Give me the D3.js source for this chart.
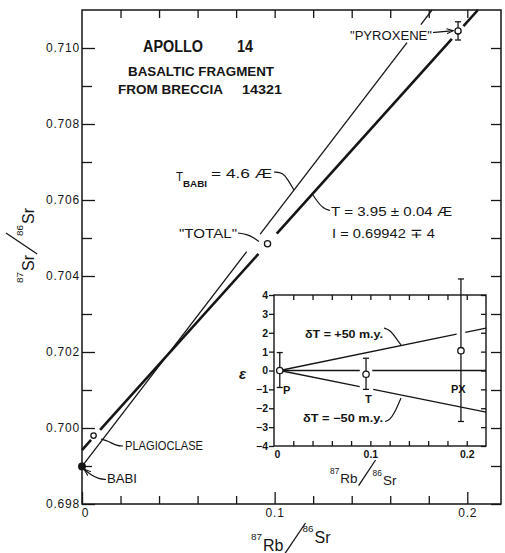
<!DOCTYPE html>
<html>
<head>
<meta charset="utf-8">
<script src="https://cdn.jsdelivr.net/npm/d3@7"></script>
<style>
  body { margin: 0; background: #fff; }
  svg text { font-family: "Liberation Sans", Arial, sans-serif; fill: #151515; }
</style>
</head>
<body>
<script>
// sample data
const sampleNames = ["BABI", "PLAGIOCLASE", "TOTAL", "PYROXENE"];
const rbSr = [0, 0.006, 0.0963, 0.1952];
const srSr = [0.69899, 0.6998, 0.70485, 0.71045];
const srErr = [0, 0, 0, 0.00024];
const filled = [true, false, false, false];

// isochron (T = 3.95 AE) and BABI reference line (4.6 AE), end points + gaps along x
const isoX = [0, 0.2055];
const isoY = [0.69942, 0.711];
const isoGaps = [[0.0047, 0.0094], [0.0916, 0.1011], [0.192, 0.198]];
const babiX = [0, 0.1817];
const babiY = [0.69899, 0.711];
const babiGaps = [[0.0855, 0.0925], [0.1687, 0.1759]];

// inset: epsilon deviations
const insetNames = ["P", "T", "PX"];
const insetRbSr = [0.006, 0.0955, 0.194];
const epsValues = [0, -0.2, 1.05];
const epsErrUp = [0.95, 0.85, 3.8];
const epsErrDown = [0.9, 0.8, 3.75];
const refNames = ["+50", "0", "-50"];
const refEndEps = [2.25, 0, -2.2];
const refGaps = [[[0.1895, 0.1985]], [[0.089, 0.102]], [[0.089, 0.103]]];

// ticks
const yMajorTicks = [0.698, 0.700, 0.702, 0.704, 0.706, 0.708, 0.710];
const yMinorTicks = [0.699, 0.701, 0.703, 0.705, 0.707, 0.709];
const xMajorTicks = [0, 0.1, 0.2];
const xMinorTicks = [0.02, 0.04, 0.06, 0.08, 0.12, 0.14, 0.16, 0.18];
const epsTicks = [-4, -3, -2, -1, 0, 1, 2, 3, 4];
const insetXTicks = [0.02, 0.04, 0.06, 0.08, 0.1, 0.12, 0.14, 0.16, 0.18, 0.2];

const ink = "#151515";
const svg = d3.select("body").append("svg").attr("width", 505).attr("height", 553);

const defs = svg.append("defs");
defs.append("marker").attr("id", "arr").attr("viewBox", "0 0 10 10")
    .attr("refX", 9).attr("refY", 5).attr("markerWidth", 6).attr("markerHeight", 6)
    .attr("orient", "auto")
    .append("path").attr("d", "M0,1.5 L10,5 L0,8.5").attr("fill", "none")
    .attr("stroke", ink).attr("stroke-width", 1.5);

const x = d3.scaleLinear().domain([0, 0.2175]).range([82, 501]);
const y = d3.scaleLinear().domain([0.698, 0.711]).range([504, 10]);

function pieces(x0, y0, x1, y1, gaps) {
    const at = v => y0 + (y1 - y0) * (v - x0) / (x1 - x0);
    const out = [];
    let s = x0;
    gaps.forEach(([a, b]) => { out.push([[s, at(s)], [a, at(a)]]); s = b; });
    out.push([[s, at(s)], [x1, at(x1)]]);
    return out;
}

function clean(g) {
    g.select(".domain").remove();
    g.selectAll("line").attr("stroke", ink).attr("stroke-width", 1.3);
    return g;
}

// main axes
clean(svg.append("g").attr("transform", "translate(82,0)")
    .call(d3.axisLeft(y).tickValues(yMajorTicks).tickSizeInner(-13).tickSizeOuter(0)
        .tickPadding(2).tickFormat(d3.format(".3f"))))
    .selectAll("text").style("font-size", "12px").attr("letter-spacing", 0.8);
clean(svg.append("g").attr("transform", "translate(82,0)")
    .call(d3.axisLeft(y).tickValues(yMinorTicks).tickSizeInner(-10).tickSizeOuter(0).tickFormat("")));
clean(svg.append("g").attr("transform", "translate(501,0)")
    .call(d3.axisRight(y).tickValues(yMajorTicks.concat(yMinorTicks)).tickSizeInner(-10)
        .tickSizeOuter(0).tickFormat("")));
clean(svg.append("g").attr("transform", "translate(0,504)")
    .call(d3.axisBottom(x).tickValues(xMajorTicks).tickSizeInner(-12).tickSizeOuter(0)
        .tickPadding(4).tickFormat(d => d === 0 ? "0" : d3.format(".1f")(d))))
    .selectAll("text").style("font-size", "12px").attr("letter-spacing", 0.8)
    .attr("dx", d => d === 0 ? 3 : 0);
clean(svg.append("g").attr("transform", "translate(0,504)")
    .call(d3.axisBottom(x).tickValues(xMinorTicks).tickSizeInner(-8).tickSizeOuter(0).tickFormat("")));
clean(svg.append("g").attr("transform", "translate(0,10)")
    .call(d3.axisTop(x).tickValues(xMinorTicks.concat([0.1, 0.2])).tickSizeInner(-8)
        .tickSizeOuter(0).tickFormat("")));

svg.append("rect").attr("x", x(0)).attr("y", y(0.711))
    .attr("width", x(0.2175) - x(0)).attr("height", y(0.698) - y(0.711))
    .attr("fill", "none").attr("stroke", ink).attr("stroke-width", 1.5);

// lines
const line = d3.line().x(d => x(d[0])).y(d => y(d[1]));
svg.append("g").selectAll("path")
    .data(pieces(isoX[0], isoY[0], isoX[1], isoY[1], isoGaps))
    .join("path").attr("d", line).attr("stroke", ink).attr("stroke-width", 2.6).attr("fill", "none");
svg.append("g").selectAll("path")
    .data(pieces(babiX[0], babiY[0], babiX[1], babiY[1], babiGaps))
    .join("path").attr("d", line).attr("stroke", ink).attr("stroke-width", 1.3).attr("fill", "none");

// points
const pts = sampleNames.map((n, i) => ({ n, rb: rbSr[i], sr: srSr[i], e: srErr[i], f: filled[i] }));
const pg = svg.append("g");
pts.filter(d => d.e > 0).forEach(d => {
    pg.append("line").attr("x1", x(d.rb)).attr("x2", x(d.rb))
        .attr("y1", y(d.sr + d.e)).attr("y2", y(d.sr - d.e)).attr("stroke", ink).attr("stroke-width", 1.3);
    [d.sr + d.e, d.sr - d.e].forEach(v => pg.append("line")
        .attr("x1", x(d.rb) - 3).attr("x2", x(d.rb) + 3).attr("y1", y(v)).attr("y2", y(v))
        .attr("stroke", ink).attr("stroke-width", 1.3));
});
pg.selectAll("circle").data(pts).join("circle")
    .attr("cx", d => x(d.rb)).attr("cy", d => y(d.sr))
    .attr("r", d => d.f ? 3.3 : (d.n === "PLAGIOCLASE" ? 2.7 : 3.1))
    .attr("fill", d => d.f ? ink : "#fff").attr("stroke", ink).attr("stroke-width", 1.3);

// text labels
function label(t, px, py, size, opts = {}) {
    const el = svg.append("text").attr("x", px).attr("y", py).style("font-size", size + "px").text(t);
    if (opts.bold) el.style("font-weight", "bold");
    if (opts.italic) el.style("font-style", "italic");
    if (opts.len) el.attr("textLength", opts.len).attr("lengthAdjust", "spacingAndGlyphs");
    return el;
}
label("APOLLO", 143, 51.5, 16, { bold: true, len: 60 });
label("14", 237, 51.5, 16, { bold: true, len: 16 });
label("BASALTIC FRAGMENT", 128, 75.5, 13, { bold: true, len: 146 });
label("FROM BRECCIA", 118, 93.5, 13, { bold: true, len: 105 });
label("14321", 242, 93.5, 13, { bold: true, len: 40 });

label("T", 176, 181, 13, { len: 7 });
label("BABI", 183, 187, 8.5, { bold: true, len: 24 });
label("= 4.6 Æ", 211, 178, 12.5, { len: 61 });
label("T = 3.95 ± 0.04  Æ", 331, 216, 12.5, { len: 121 });
label("I = 0.69942 ∓ 4", 332, 238, 12.5, { len: 103 });
label("\"TOTAL\"", 179, 238, 12.5, { len: 58 });
label("\"PYROXENE\"", 350, 40, 12.5, { len: 82 });
label("PLAGIOCLASE", 125, 449.5, 12, { len: 78 });
label("BABI", 107, 482.5, 12, { len: 30 });

// leader lines
const curve = d3.line().curve(d3.curveBasis);
function leader(p, arrow) {
    const el = svg.append("path").attr("d", curve(p)).attr("fill", "none")
        .attr("stroke", ink).attr("stroke-width", 1.2);
    if (arrow) el.attr("marker-end", "url(#arr)");
}
leader([[274, 172], [283, 172.5], [288, 180], [294, 190]]);
leader([[330, 210.5], [323, 208.5], [317, 201], [313, 195]]);
leader([[238, 233], [248, 234.5], [254, 238], [259, 241.5]]);
leader([[433, 32.5], [443, 31.5], [453, 30.7]], true);
leader([[123, 446], [117, 446], [108, 441], [101, 439]]);
leader([[106, 479.5], [99, 479], [91, 475], [84.5, 469.5]], true);

// ratio labels: 87X / 86Sr
function ratio(px, py, rot, el1, size, raise, slash) {
    const g = svg.append("g").attr("transform", `translate(${px},${py}) rotate(${rot})`);
    const sup = size * 0.62;
    let cx = 0;
    const put = (t, fs, ty) => {
        const e = g.append("text").attr("x", cx).attr("y", ty).style("font-size", fs + "px").text(t);
        cx += e.node().getComputedTextLength() + 1;
    };
    put("87", sup, -size * 0.66);
    put(el1, size, 0);
    g.append("line").attr("x1", cx).attr("y1", size * 0.2).attr("x2", cx + slash[0]).attr("y2", -slash[1])
        .attr("stroke", ink).attr("stroke-width", 1.3);
    cx += slash[0] - 3;
    put("86", sup, -size * 0.66 - raise);
    put("Sr", size, -raise);
}
ratio(251, 551, 0, "Rb", 16, 8, [21, 28]);
ratio(34, 283, -90, "Sr", 16, 0, [21, 28]);

// inset
const xi = d3.scaleLinear().domain([0, 0.22]).range([274, 486]);
const yi = d3.scaleLinear().domain([-4, 4]).range([446, 295]);
const inset = svg.append("g");
inset.append("rect").attr("x", xi(0)).attr("y", yi(4)).attr("width", xi(0.22) - xi(0))
    .attr("height", yi(-4) - yi(4)).attr("fill", "#fff");

clean(inset.append("g").attr("transform", `translate(${xi(0)},0)`)
    .call(d3.axisLeft(yi).tickValues(epsTicks).tickSizeInner(5).tickSizeOuter(0).tickPadding(1)))
    .selectAll("text").style("font-size", "10.5px").style("font-weight", "bold");
clean(inset.append("g").attr("transform", `translate(${xi(0.22)},0)`)
    .call(d3.axisRight(yi).tickValues(epsTicks).tickSizeInner(-5).tickSizeOuter(0).tickFormat("")));
clean(inset.append("g").attr("transform", `translate(0,${yi(-4)})`)
    .call(d3.axisBottom(xi).tickValues(insetXTicks).tickSizeInner(-5).tickSizeOuter(0).tickFormat("")));
clean(inset.append("g").attr("transform", `translate(0,${yi(-4)})`)
    .call(d3.axisBottom(xi).tickValues(xMajorTicks).tickSizeInner(0).tickSizeOuter(0).tickPadding(5)
        .tickFormat(d => d === 0 ? "0" : d3.format(".1f")(d))))
    .selectAll("text").style("font-size", "10.5px").style("font-weight", "bold").attr("dx", d => d === 0 ? 3 : 0);
clean(inset.append("g").attr("transform", `translate(0,${yi(4)})`)
    .call(d3.axisTop(xi).tickValues(insetXTicks).tickSizeInner(-5).tickSizeOuter(0).tickFormat("")));

const iline = d3.line().x(d => xi(d[0])).y(d => yi(d[1]));
refNames.forEach((n, k) => {
    inset.append("g").selectAll("path")
        .data(pieces(insetRbSr[0], epsValues[0], 0.22, refEndEps[k], refGaps[k]))
        .join("path").attr("d", iline).attr("fill", "none").attr("stroke", ink).attr("stroke-width", 1.3);
});

const ipts = insetNames.map((n, i) => ({ n, rb: insetRbSr[i], e: epsValues[i], up: epsErrUp[i], dn: epsErrDown[i] }));
ipts.forEach(d => {
    const top = d.e + d.up, bot = d.e - d.dn;
    inset.append("line").attr("x1", xi(d.rb)).attr("x2", xi(d.rb)).attr("y1", yi(top)).attr("y2", yi(bot))
        .attr("stroke", ink).attr("stroke-width", 1.3);
    [top, bot].forEach(v => inset.append("line").attr("x1", xi(d.rb) - 3).attr("x2", xi(d.rb) + 3)
        .attr("y1", yi(v)).attr("y2", yi(v)).attr("stroke", ink).attr("stroke-width", 1.3));
});
inset.selectAll("circle").data(ipts).join("circle")
    .attr("cx", d => xi(d.rb)).attr("cy", d => yi(d.e)).attr("r", 3.2)
    .attr("fill", "#fff").attr("stroke", ink).attr("stroke-width", 1.3);

inset.append("rect").attr("x", xi(0)).attr("y", yi(4)).attr("width", xi(0.22) - xi(0))
    .attr("height", yi(-4) - yi(4)).attr("fill", "none").attr("stroke", ink).attr("stroke-width", 1.4);

label("P", 283, 394, 11, { bold: true });
label("T", 365, 403, 11, { bold: true });
label("PX", 451, 393, 11, { bold: true });
label("δT = +50 m.y.", 305, 338, 11, { bold: true, len: 78 });
label("δT = −50 m.y.", 303, 421.5, 11, { bold: true, len: 80 });
label("ε", 239, 379, 15, { italic: true, bold: true });
leader([[384, 328], [390, 330], [396, 338], [401, 345]]);
leader([[385, 421.5], [390, 420], [396, 410], [401, 398]]);
ratio(330, 483, 0, "Rb", 13.5, -2, [17, 23]);
</script>
</body>
</html>
